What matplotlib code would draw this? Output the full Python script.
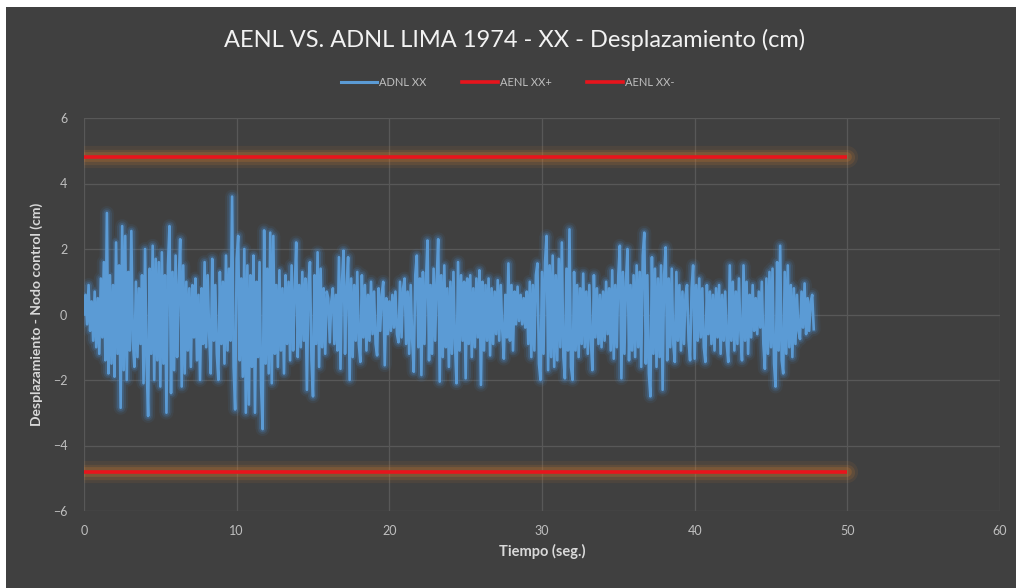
import numpy as np
import matplotlib
matplotlib.use("Agg")
import matplotlib.pyplot as plt
from matplotlib.patches import Rectangle
from matplotlib.lines import Line2D

# ---------------- data ----------------
title = "AENL VS. ADNL LIMA 1974 - XX - Desplazamiento (cm)"
series_names = ["ADNL XX", "AENL XX+", "AENL XX-"]
x_label = "Tiempo (seg.)"
y_label = "Desplazamiento - Nodo control (cm)"
x_ticks = [0, 10, 20, 30, 40, 50, 60]
y_ticks = [-6, -4, -2, 0, 2, 4, 6]

dt = 0.1  # s, sample step of the displacement record
adnl_xx = [
    0.0, 0.6, -0.3, 0.9, -0.5, 0.4, -0.8, 0.7, -1.0, 0.5, -1.2, 1.1, -0.7, 1.6, -1.4, 3.1, -1.8, 1.2, -1.5, 0.9,
    -1.9, 2.2, -1.2, 1.5, -2.85, 2.7, -1.7, 2.4, -2.0, 1.3, -1.1, 2.55, -0.8, -1.6, 1.0, -1.3, 0.8, -0.9, 1.2, -2.1,
    2.0, -1.5, -3.1, 1.4, -1.2, 2.1, -2.0, 1.7, -1.4, 1.6, -2.2, 1.9, -1.5, 1.2, -3.0, 1.5, 2.7, -2.4, 1.3, -1.7,
    1.8, -1.3, 0.9, 2.3, -2.2, 1.5, -1.8, 1.0, -1.1, 0.8, -1.6, 0.9, -0.7, 1.1, -1.4, 0.6, -2.0, 0.8, -0.9, 1.6,
    -1.0, 1.2, -0.6, -1.8, 1.7, -0.8, 0.9, -1.2, -2.0, 1.3, -0.9, 1.0, -1.5, 1.8, -1.1, 1.4, -0.8, 3.6, -1.6, -2.9,
    1.7, 2.4, -1.4, 1.1, -1.9, 2.0, -3.0, 1.5, -2.75, 1.2, -1.6, 1.8, -3.0, 1.0, -1.3, 1.6, -2.2, -3.5, 2.57, -1.5,
    1.4, -1.8, 2.5, -2.1, 2.4, -1.2, 0.9, -1.6, 1.35, -1.1, 0.8, -1.8, 1.2, -0.9, 1.0, -1.4, 1.5, -1.1, 0.7, 2.2,
    -1.3, 0.9, -1.0, 1.3, -0.8, 1.1, -2.3, 0.9, 1.6, -1.4, -2.5, 1.2, -0.9, 1.9, -1.6, 1.4, -1.0, 0.8, -1.2, 0.7,
    0.5, -0.85, 0.4, 0.8, -0.9, 0.6, -1.1, 1.75, -1.66, 1.0, 1.95, -1.2, 0.8, 1.75, -2.0, 1.1, -1.3, 0.9, -0.8, 1.3,
    -0.9, -1.45, 1.2, -0.7, 0.9, -1.1, 0.6, -0.8, 1.0, -0.6, 0.7, -0.9, -1.25, 0.8, -0.5, 0.6, 1.0, -1.55, 0.5, -0.6,
    0.4, -0.5, 0.6, -0.4, 0.7, -0.6, -0.85, 1.0, -0.7, 0.8, 1.1, -0.9, 0.7, -1.2, 0.9, -0.8, -1.75, 1.2, 1.8, -1.0,
    1.1, -1.85, 1.3, -0.9, 1.0, 2.26, -1.4, 0.9, -1.2, 1.4, -0.8, 1.0, 2.3, -2.05, 1.2, -1.3, 1.5, -1.0, 0.8, -1.6,
    1.0, -1.2, 1.3, -0.9, -2.1, 1.6, -1.1, 1.2, -0.8, 1.0, -1.95, 1.1, -0.9, 1.2, -1.3, 0.8, -1.0, 1.1, -0.7, 1.35,
    -2.15, 1.0, -1.1, 0.9, -0.8, 1.1, -1.25, 0.8, -0.9, 0.7, -0.6, 1.05, -0.8, 0.9, -0.5, -1.35, 0.6, -0.7, 1.56, -0.8,
    0.9, -1.1, 0.7, -0.3, 0.85, -0.2, 0.6, -0.3, 0.5, -0.4, 0.7, -0.9, 1.0, -1.3, 0.9, -1.1, 1.2, 1.56, -1.5, -2.0,
    1.3, -1.2, 1.6, 2.4, -1.7, 1.5, -1.3, 1.8, -1.6, 1.2, -1.4, 1.7, -1.0, 2.2, -1.3, -1.95, 1.4, -1.1, 2.6, -1.6,
    -2.0, 1.3, -1.1, 0.9, -1.3, 0.8, -0.9, 1.25, -1.0, 0.7, -1.2, 0.9, -0.8, -1.7, 1.2, -0.7, 0.8, -0.9, 0.6, -1.0,
    0.7, -0.8, 1.0, -0.6, 0.8, -1.1, 1.35, -1.35, 0.9, -1.0, 1.2, 2.1, -1.95, 1.3, -1.2, 1.0, 2.0, -1.4, 0.9, -1.1,
    1.2, -1.3, 1.5, -1.0, 1.3, -1.6, 1.8, 2.5, -1.5, 1.2, -1.8, -2.5, 1.75, -1.2, 1.4, -1.6, 1.1, -1.3, 1.5, -2.3,
    1.2, 2.05, -1.4, 1.1, -1.0, 1.4, -0.9, -1.45, 1.3, -0.8, 0.9, -1.1, 0.7, -0.9, 0.6, 0.9, -0.8, -1.4, 0.8, 1.5,
    -1.35, 0.9, -0.8, 1.1, -0.7, 0.8, -1.0, -1.45, 0.9, -0.6, 0.7, -0.9, 0.6, -1.1, 0.8, -0.7, 0.9, -1.2, 0.6, -0.8,
    0.7, -0.9, -1.45, 1.5, -0.8, 1.0, -1.1, 0.7, -0.9, 1.1, -0.6, -1.4, 1.5, -0.8, 1.0, -1.2, 0.6, -0.7, 0.9, -0.5,
    0.5, -0.6, 0.7, -0.4, 1.0, -0.9, -1.66, 1.1, -1.2, 1.3, -1.0, 1.4, -1.5, -2.2, 1.6, -1.1, 2.1, -1.4, -1.8, 1.3,
    -1.2, 1.5, -1.0, 0.9, -1.3, 0.8, -0.9, 0.6, -0.5, -0.75, 0.7, -0.4, 0.95, -0.6, 0.5, -0.5, 0.4, 0.6, -0.45,
]
limit_x = [0, 50]
aenl_pos = [4.8, 4.8]
aenl_neg = [-4.8, -4.8]

# ---------------- style ----------------
W, H, DPI = 1016, 588, 100
bg = "#404040"
blue = "#5B9BD5"
red = "#E8141C"
txt = "#D9D9D9"
tick_c = "#BFBFBF"
grid_c = "#585858"

plt.rcParams["font.family"] = ["Lato", "DejaVu Sans"]

fig = plt.figure(figsize=(W / DPI, H / DPI), dpi=DPI, facecolor="white")
fig.patches.append(Rectangle((6 / W, 0), 1, (H - 7) / H, transform=fig.transFigure,
                             facecolor=bg, edgecolor="none", zorder=-10))

ax = fig.add_axes([84 / W, 1 - 511 / H, (1000 - 84) / W, (511 - 118) / H])
ax.set_facecolor(bg)
ax.patch.set_alpha(0)

t = np.arange(len(adnl_xx)) * dt

# glow for limit lines
for lw, a in [(16, 0.10), (11, 0.16), (7, 0.25)]:
    ax.plot(limit_x, aenl_pos, color="#C8782E", lw=lw, alpha=a, solid_capstyle="round", zorder=2)
    ax.plot(limit_x, aenl_neg, color="#C8782E", lw=lw, alpha=a, solid_capstyle="round", zorder=2)
ax.plot(limit_x, aenl_pos, color=red, lw=2.6, solid_capstyle="butt", zorder=3)
ax.plot(limit_x, aenl_neg, color=red, lw=2.6, solid_capstyle="butt", zorder=3)

# glow for displacement
for lw, a in [(10, 0.08), (7, 0.14), (4.5, 0.22)]:
    ax.plot(t, adnl_xx, color="#4A90D9", lw=lw, alpha=a, solid_joinstyle="round",
            solid_capstyle="round", zorder=4)
ax.plot(t, adnl_xx, color=blue, lw=1.9, solid_joinstyle="round", zorder=5)

ax.set_xlim(0, 60)
ax.set_ylim(-6, 6)
ax.set_xticks(x_ticks)
ax.set_yticks(y_ticks)
ax.grid(True, color=grid_c, lw=0.9)
ax.set_axisbelow(True)
for s in ax.spines.values():
    s.set_visible(False)
ax.tick_params(length=0, colors=tick_c, labelsize=9, pad=12)
ax.tick_params(axis="x", pad=10)

ax.set_xlabel(x_label, color=txt, fontsize=10.5, fontweight="bold", labelpad=5)
ax.set_ylabel(y_label, color=txt, fontsize=10, fontweight="bold", labelpad=7)

fig.text(0.5065, 1 - 40 / H, title, color="#F2F2F2", fontsize=17, ha="center", va="center")

handles = [Line2D([], [], color=blue, lw=2.2),
           Line2D([], [], color=red, lw=2.6),
           Line2D([], [], color=red, lw=2.6)]
fig.legend(handles, series_names, loc="center", bbox_to_anchor=(0.5, 1 - 82 / H), ncol=3,
           frameon=False, fontsize=8, labelcolor=tick_c, handlelength=3.2, handletextpad=0.2,
           columnspacing=3.2)

fig.savefig("out.png", dpi=DPI, facecolor=fig.get_facecolor())
